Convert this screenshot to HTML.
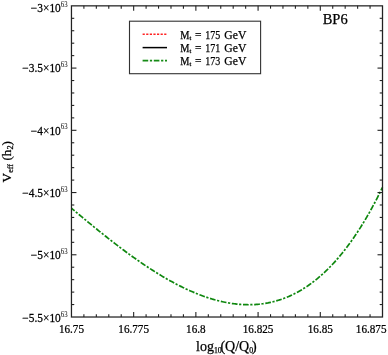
<!DOCTYPE html>
<html><head><meta charset="utf-8"><style>
html,body{margin:0;padding:0;background:#fff;}
svg{display:block;}
text{font-family:"Liberation Serif", serif;fill:#000;stroke:#000;stroke-width:0.25px;}
</style></head><body>
<svg width="388" height="355" viewBox="0 0 388 355">
<defs><filter id="b" filterUnits="userSpaceOnUse" x="0" y="0" width="388" height="355"><feGaussianBlur stdDeviation="0.35"/></filter></defs>
<rect width="388" height="355" fill="#fff"/>
<g filter="url(#b)">
<polyline points="71.45,208.19 72.75,209.29 74.05,210.38 75.35,211.47 76.66,212.56 77.96,213.65 79.26,214.74 80.56,215.82 81.86,216.90 83.16,217.99 84.46,219.07 85.77,220.14 87.07,221.22 88.37,222.29 89.67,223.37 90.97,224.43 92.27,225.50 93.57,226.56 94.88,227.63 96.18,228.68 97.48,229.74 98.78,230.79 100.08,231.84 101.38,232.88 102.69,233.93 103.99,234.96 105.29,236.00 106.59,237.03 107.89,238.06 109.19,239.08 110.49,240.10 111.80,241.11 113.10,242.12 114.40,243.13 115.70,244.13 117.00,245.13 118.30,246.12 119.60,247.11 120.91,248.09 122.21,249.07 123.51,250.04 124.81,251.01 126.11,251.97 127.41,252.93 128.71,253.88 130.02,254.83 131.32,255.77 132.62,256.71 133.92,257.63 135.22,258.56 136.52,259.48 137.82,260.39 139.13,261.29 140.43,262.19 141.73,263.08 143.03,263.97 144.33,264.85 145.63,265.72 146.93,266.58 148.24,267.44 149.54,268.29 150.84,269.14 152.14,269.98 153.44,270.81 154.74,271.63 156.05,272.44 157.35,273.25 158.65,274.05 159.95,274.84 161.25,275.63 162.55,276.40 163.85,277.17 165.16,277.93 166.46,278.68 167.76,279.43 169.06,280.16 170.36,280.89 171.66,281.60 172.96,282.31 174.27,283.01 175.57,283.70 176.87,284.39 178.17,285.06 179.47,285.72 180.77,286.38 182.07,287.02 183.38,287.66 184.68,288.28 185.98,288.90 187.28,289.50 188.58,290.10 189.88,290.68 191.18,291.26 192.49,291.83 193.79,292.38 195.09,292.92 196.39,293.46 197.69,293.98 198.99,294.49 200.29,294.99 201.60,295.48 202.90,295.96 204.20,296.43 205.50,296.88 206.80,297.33 208.10,297.76 209.41,298.18 210.71,298.59 212.01,298.99 213.31,299.37 214.61,299.75 215.91,300.11 217.21,300.45 218.52,300.79 219.82,301.11 221.12,301.42 222.42,301.72 223.72,302.00 225.02,302.27 226.32,302.53 227.63,302.77 228.93,303.00 230.23,303.22 231.53,303.42 232.83,303.61 234.13,303.78 235.43,303.94 236.74,304.09 238.04,304.22 239.34,304.34 240.64,304.44 241.94,304.52 243.24,304.60 244.54,304.65 245.85,304.69 247.15,304.72 248.45,304.73 249.75,304.72 251.05,304.70 252.35,304.66 253.66,304.61 254.96,304.54 256.26,304.45 257.56,304.35 258.86,304.23 260.16,304.09 261.46,303.93 262.77,303.76 264.07,303.57 265.37,303.36 266.67,303.14 267.97,302.90 269.27,302.63 270.57,302.36 271.88,302.06 273.18,301.74 274.48,301.40 275.78,301.05 277.08,300.68 278.38,300.28 279.68,299.87 280.99,299.44 282.29,298.99 283.59,298.51 284.89,298.02 286.19,297.51 287.49,296.98 288.79,296.42 290.10,295.85 291.40,295.25 292.70,294.63 294.00,293.99 295.30,293.33 296.60,292.65 297.90,291.94 299.21,291.22 300.51,290.47 301.81,289.69 303.11,288.90 304.41,288.08 305.71,287.23 307.02,286.37 308.32,285.48 309.62,284.56 310.92,283.63 312.22,282.66 313.52,281.67 314.82,280.66 316.13,279.62 317.43,278.56 318.73,277.47 320.03,276.36 321.33,275.22 322.63,274.05 323.93,272.85 325.24,271.63 326.54,270.39 327.84,269.11 329.14,267.81 330.44,266.48 331.74,265.12 333.04,263.73 334.35,262.32 335.65,260.87 336.95,259.40 338.25,257.90 339.55,256.37 340.85,254.80 342.15,253.21 343.46,251.59 344.76,249.93 346.06,248.25 347.36,246.53 348.66,244.79 349.96,243.01 351.26,241.20 352.57,239.35 353.87,237.48 355.17,235.57 356.47,233.63 357.77,231.65 359.07,229.64 360.38,227.60 361.68,225.52 362.98,223.40 364.28,221.26 365.58,219.07 366.88,216.85 368.18,214.60 369.49,212.30 370.79,209.98 372.09,207.61 373.39,205.21 374.69,202.77 375.99,200.29 377.29,197.77 378.60,195.21 379.90,192.62 381.20,189.99 382.50,187.31" fill="none" stroke="#0f870f" stroke-width="1.7" stroke-dasharray="5.7 1.6 2.2 1.7" stroke-dashoffset="1.6"/>
<g stroke="#222" stroke-width="1.1"><line x1="83.89" y1="317.00" x2="83.89" y2="314.20"/><line x1="83.89" y1="5.85" x2="83.89" y2="8.65"/><line x1="71.45" y1="18.30" x2="74.25" y2="18.30"/><line x1="382.50" y1="18.30" x2="379.70" y2="18.30"/><line x1="96.33" y1="317.00" x2="96.33" y2="314.20"/><line x1="96.33" y1="5.85" x2="96.33" y2="8.65"/><line x1="71.45" y1="30.74" x2="74.25" y2="30.74"/><line x1="382.50" y1="30.74" x2="379.70" y2="30.74"/><line x1="108.78" y1="317.00" x2="108.78" y2="314.20"/><line x1="108.78" y1="5.85" x2="108.78" y2="8.65"/><line x1="71.45" y1="43.19" x2="74.25" y2="43.19"/><line x1="382.50" y1="43.19" x2="379.70" y2="43.19"/><line x1="121.22" y1="317.00" x2="121.22" y2="314.20"/><line x1="121.22" y1="5.85" x2="121.22" y2="8.65"/><line x1="71.45" y1="55.63" x2="74.25" y2="55.63"/><line x1="382.50" y1="55.63" x2="379.70" y2="55.63"/><line x1="133.66" y1="317.00" x2="133.66" y2="312.00"/><line x1="133.66" y1="5.85" x2="133.66" y2="10.85"/><line x1="71.45" y1="68.08" x2="76.45" y2="68.08"/><line x1="382.50" y1="68.08" x2="377.50" y2="68.08"/><line x1="146.10" y1="317.00" x2="146.10" y2="314.20"/><line x1="146.10" y1="5.85" x2="146.10" y2="8.65"/><line x1="71.45" y1="80.53" x2="74.25" y2="80.53"/><line x1="382.50" y1="80.53" x2="379.70" y2="80.53"/><line x1="158.54" y1="317.00" x2="158.54" y2="314.20"/><line x1="158.54" y1="5.85" x2="158.54" y2="8.65"/><line x1="71.45" y1="92.97" x2="74.25" y2="92.97"/><line x1="382.50" y1="92.97" x2="379.70" y2="92.97"/><line x1="170.99" y1="317.00" x2="170.99" y2="314.20"/><line x1="170.99" y1="5.85" x2="170.99" y2="8.65"/><line x1="71.45" y1="105.42" x2="74.25" y2="105.42"/><line x1="382.50" y1="105.42" x2="379.70" y2="105.42"/><line x1="183.43" y1="317.00" x2="183.43" y2="314.20"/><line x1="183.43" y1="5.85" x2="183.43" y2="8.65"/><line x1="71.45" y1="117.86" x2="74.25" y2="117.86"/><line x1="382.50" y1="117.86" x2="379.70" y2="117.86"/><line x1="195.87" y1="317.00" x2="195.87" y2="312.00"/><line x1="195.87" y1="5.85" x2="195.87" y2="10.85"/><line x1="71.45" y1="130.31" x2="76.45" y2="130.31"/><line x1="382.50" y1="130.31" x2="377.50" y2="130.31"/><line x1="208.31" y1="317.00" x2="208.31" y2="314.20"/><line x1="208.31" y1="5.85" x2="208.31" y2="8.65"/><line x1="71.45" y1="142.76" x2="74.25" y2="142.76"/><line x1="382.50" y1="142.76" x2="379.70" y2="142.76"/><line x1="220.75" y1="317.00" x2="220.75" y2="314.20"/><line x1="220.75" y1="5.85" x2="220.75" y2="8.65"/><line x1="71.45" y1="155.20" x2="74.25" y2="155.20"/><line x1="382.50" y1="155.20" x2="379.70" y2="155.20"/><line x1="233.20" y1="317.00" x2="233.20" y2="314.20"/><line x1="233.20" y1="5.85" x2="233.20" y2="8.65"/><line x1="71.45" y1="167.65" x2="74.25" y2="167.65"/><line x1="382.50" y1="167.65" x2="379.70" y2="167.65"/><line x1="245.64" y1="317.00" x2="245.64" y2="314.20"/><line x1="245.64" y1="5.85" x2="245.64" y2="8.65"/><line x1="71.45" y1="180.09" x2="74.25" y2="180.09"/><line x1="382.50" y1="180.09" x2="379.70" y2="180.09"/><line x1="258.08" y1="317.00" x2="258.08" y2="312.00"/><line x1="258.08" y1="5.85" x2="258.08" y2="10.85"/><line x1="71.45" y1="192.54" x2="76.45" y2="192.54"/><line x1="382.50" y1="192.54" x2="377.50" y2="192.54"/><line x1="270.52" y1="317.00" x2="270.52" y2="314.20"/><line x1="270.52" y1="5.85" x2="270.52" y2="8.65"/><line x1="71.45" y1="204.99" x2="74.25" y2="204.99"/><line x1="382.50" y1="204.99" x2="379.70" y2="204.99"/><line x1="282.96" y1="317.00" x2="282.96" y2="314.20"/><line x1="282.96" y1="5.85" x2="282.96" y2="8.65"/><line x1="71.45" y1="217.43" x2="74.25" y2="217.43"/><line x1="382.50" y1="217.43" x2="379.70" y2="217.43"/><line x1="295.41" y1="317.00" x2="295.41" y2="314.20"/><line x1="295.41" y1="5.85" x2="295.41" y2="8.65"/><line x1="71.45" y1="229.88" x2="74.25" y2="229.88"/><line x1="382.50" y1="229.88" x2="379.70" y2="229.88"/><line x1="307.85" y1="317.00" x2="307.85" y2="314.20"/><line x1="307.85" y1="5.85" x2="307.85" y2="8.65"/><line x1="71.45" y1="242.32" x2="74.25" y2="242.32"/><line x1="382.50" y1="242.32" x2="379.70" y2="242.32"/><line x1="320.29" y1="317.00" x2="320.29" y2="312.00"/><line x1="320.29" y1="5.85" x2="320.29" y2="10.85"/><line x1="71.45" y1="254.77" x2="76.45" y2="254.77"/><line x1="382.50" y1="254.77" x2="377.50" y2="254.77"/><line x1="332.73" y1="317.00" x2="332.73" y2="314.20"/><line x1="332.73" y1="5.85" x2="332.73" y2="8.65"/><line x1="71.45" y1="267.22" x2="74.25" y2="267.22"/><line x1="382.50" y1="267.22" x2="379.70" y2="267.22"/><line x1="345.17" y1="317.00" x2="345.17" y2="314.20"/><line x1="345.17" y1="5.85" x2="345.17" y2="8.65"/><line x1="71.45" y1="279.66" x2="74.25" y2="279.66"/><line x1="382.50" y1="279.66" x2="379.70" y2="279.66"/><line x1="357.62" y1="317.00" x2="357.62" y2="314.20"/><line x1="357.62" y1="5.85" x2="357.62" y2="8.65"/><line x1="71.45" y1="292.11" x2="74.25" y2="292.11"/><line x1="382.50" y1="292.11" x2="379.70" y2="292.11"/><line x1="370.06" y1="317.00" x2="370.06" y2="314.20"/><line x1="370.06" y1="5.85" x2="370.06" y2="8.65"/><line x1="71.45" y1="304.55" x2="74.25" y2="304.55"/><line x1="382.50" y1="304.55" x2="379.70" y2="304.55"/></g>
<rect x="71.45" y="5.85" width="311.05" height="311.15" fill="none" stroke="#222" stroke-width="1.25"/>
<rect x="129.5" y="21.2" width="131.1" height="52.5" fill="none" stroke="#333" stroke-width="1.1"/>
<line x1="142.6" y1="34.2" x2="167" y2="34.2" stroke="#f22" stroke-width="1.5" stroke-dasharray="2.2 1.4"/>
<line x1="142.6" y1="47.6" x2="167" y2="47.6" stroke="#000" stroke-width="1.5"/>
<line x1="142.6" y1="60.6" x2="167" y2="60.6" stroke="#138a13" stroke-width="1.7" stroke-dasharray="5.6 1.7 2.2 1.7"/>
<text x="180.2" y="38.8" font-size="11.5" textLength="9.2" lengthAdjust="spacingAndGlyphs">M</text>
<text x="189.6" y="40.199999999999996" font-size="6.5">t</text>
<text x="194.9" y="38.8" font-size="11.5" textLength="6.5" lengthAdjust="spacingAndGlyphs">=</text>
<text x="205.3" y="38.8" font-size="11.5" textLength="15.0" lengthAdjust="spacingAndGlyphs">175</text>
<text x="224.3" y="38.8" font-size="11.5" textLength="22.0" lengthAdjust="spacingAndGlyphs">GeV</text>
<text x="180.2" y="51.8" font-size="11.5" textLength="9.2" lengthAdjust="spacingAndGlyphs">M</text>
<text x="189.6" y="53.199999999999996" font-size="6.5">t</text>
<text x="194.9" y="51.8" font-size="11.5" textLength="6.5" lengthAdjust="spacingAndGlyphs">=</text>
<text x="205.3" y="51.8" font-size="11.5" textLength="15.0" lengthAdjust="spacingAndGlyphs">171</text>
<text x="224.3" y="51.8" font-size="11.5" textLength="22.0" lengthAdjust="spacingAndGlyphs">GeV</text>
<text x="180.2" y="64.7" font-size="11.5" textLength="9.2" lengthAdjust="spacingAndGlyphs">M</text>
<text x="189.6" y="66.10000000000001" font-size="6.5">t</text>
<text x="194.9" y="64.7" font-size="11.5" textLength="6.5" lengthAdjust="spacingAndGlyphs">=</text>
<text x="205.3" y="64.7" font-size="11.5" textLength="15.0" lengthAdjust="spacingAndGlyphs">173</text>
<text x="224.3" y="64.7" font-size="11.5" textLength="22.0" lengthAdjust="spacingAndGlyphs">GeV</text>
<text x="322.7" y="23.7" font-size="14.5">BP6</text>
<text transform="translate(71.45,332.8) scale(0.93,1)" text-anchor="middle" font-size="12">16.75</text><text transform="translate(133.66,332.8) scale(0.93,1)" text-anchor="middle" font-size="12">16.775</text><text transform="translate(195.87,332.8) scale(0.93,1)" text-anchor="middle" font-size="12">16.8</text><text transform="translate(258.08,332.8) scale(0.93,1)" text-anchor="middle" font-size="12">16.825</text><text transform="translate(320.29,332.8) scale(0.93,1)" text-anchor="middle" font-size="12">16.85</text><text transform="translate(386.50,332.8) scale(0.93,1)" text-anchor="end" font-size="12">16.875</text><text transform="translate(67.6,11.90) scale(0.95,1)" text-anchor="end" font-size="12">&#8722;3&#215;10<tspan font-size="7.2" dy="-5.1" style="stroke-width:0">63</tspan></text><text transform="translate(67.6,72.48) scale(0.95,1)" text-anchor="end" font-size="12">&#8722;3.5&#215;10<tspan font-size="7.2" dy="-5.1" style="stroke-width:0">63</tspan></text><text transform="translate(67.6,134.51) scale(0.95,1)" text-anchor="end" font-size="12">&#8722;4&#215;10<tspan font-size="7.2" dy="-5.1" style="stroke-width:0">63</tspan></text><text transform="translate(67.6,196.94) scale(0.95,1)" text-anchor="end" font-size="12">&#8722;4.5&#215;10<tspan font-size="7.2" dy="-5.1" style="stroke-width:0">63</tspan></text><text transform="translate(67.6,258.77) scale(0.95,1)" text-anchor="end" font-size="12">&#8722;5&#215;10<tspan font-size="7.2" dy="-5.1" style="stroke-width:0">63</tspan></text><text transform="translate(67.6,321.90) scale(0.95,1)" text-anchor="end" font-size="12">&#8722;5.5&#215;10<tspan font-size="7.2" dy="-5.1" style="stroke-width:0">63</tspan></text>
<text x="196" y="350.8" font-size="14">log<tspan font-size="7.8" dy="1.8">10</tspan><tspan x="220.4" dy="-1.8">(Q/Q</tspan><tspan font-size="7.8" dy="1.8">0</tspan><tspan x="252.1" dy="-1.8">)</tspan></text>
<text transform="translate(10.9,182.4) rotate(-90)" font-size="13.2">V<tspan font-size="8.2" dy="2.3">eff</tspan><tspan dy="-2.3"> (h</tspan><tspan font-size="8.2" dy="2.3">2</tspan><tspan dy="-2.3">)</tspan></text>
</g>
</svg>
</body></html>
